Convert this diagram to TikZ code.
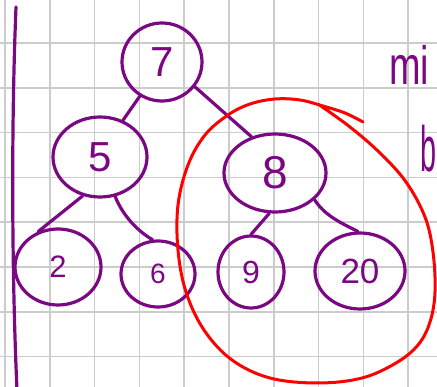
\documentclass[tikz,border=0pt]{standalone}
\usepackage{fontspec}
\usepackage{graphicx}
\setmainfont{Liberation Sans}
\usetikzlibrary{shapes.geometric}
\definecolor{penpurple}{RGB}{122,8,130}
\definecolor{penred}{RGB}{255,0,0}
\definecolor{gridgray}{RGB}{204,204,204}
\newcommand{\fsz}[1]{\fontsize{#1}{#1}\selectfont}
\begin{document}
\begin{tikzpicture}[x=1pt,y=-1pt,
  gridline/.style={draw=gridgray,line width=1.5pt},
  treenode/.style={ellipse,draw=penpurple,line width=3.2pt,inner sep=0pt,text=penpurple},
  treeedge/.style={draw=penpurple,line width=3.2pt,line cap=round},
  redloop/.style={draw=penred,line width=3pt,line cap=round,line join=round},
  penote/.style={text=penpurple,inner sep=0pt}]
\useasboundingbox[fill=white] (0,0) rectangle (437,387);
\clip (0,0) rectangle (437,387);
% grid paper
\foreach \gx in {0,...,9} \draw[gridline] ({5+44.8*\gx},0) -- ({5+44.8*\gx},387);
\foreach \gy in {0,...,7} \draw[gridline] (0,{43+44.8*\gy}) -- (437,{43+44.8*\gy});
% left margin line
\draw[treeedge] (16,7) .. controls (11,130) and (12,280) .. (17,390);
% tree nodes
\node[treenode,minimum width=80pt,minimum height=78pt,font=\fsz{42}] (n7) at (162,62) {7};
\node[treenode,minimum width=94pt,minimum height=80pt,font=\fsz{42}] (n5) at (100,157) {5};
\node[treenode,minimum width=102pt,minimum height=78pt,font=\fsz{46}] (n8) at (275,173) {8};
\node[treenode,minimum width=86pt,minimum height=76pt,font=\fsz{31}] (n2) at (58,267) {2};
\node[treenode,minimum width=74pt,minimum height=66pt,font=\fsz{28}] (n6) at (158,274) {6};
\node[treenode,minimum width=66pt,minimum height=72pt,font=\fsz{32}] (n9) at (251,272) {9};
\node[treenode,minimum width=90pt,minimum height=76pt,font=\fsz{35}] (n20) at (360,271) {20};
% connectors
\draw[treeedge] (n7.237) -- (n5.58);
\draw[treeedge] (n7.-37) -- (n8.123);
\draw[treeedge] (n5.246) -- (n2.119);
\draw[treeedge] (n5.-69) .. controls +(8,20) and +(-14,-8) .. (n6.99);
\draw[treeedge] (n8.262) -- (n9.90);
\draw[treeedge] (n8.-34) .. controls +(10,16) and +(-16,-8) .. (n20.93);
% partial notes at the right edge
\node[penote,anchor=base west,font=\fsz{54}] (mtext) at (389,85) {\scalebox{0.7}[1]{mi}};
\node[penote,anchor=base west,font=\fsz{64}] (btext) at (420,172) {\scalebox{0.45}[1]{b}};
% red loop round the right subtree
\draw[redloop] plot[smooth,tension=0.6] coordinates {
  (363,122) (345,113) (323,106) (300,100) (275,99) (250,104) (228,115)
  (205,135) (188,165) (178,205) (178,250) (186,292) (204,330) (232,360)
  (270,378) (318,383) (362,378) (396,363) (418,345) (430,322) (435,292)
  (433,252) (425,217) (406,182) (380,153) (350,127) (318,104)};
\end{tikzpicture}
\end{document}
